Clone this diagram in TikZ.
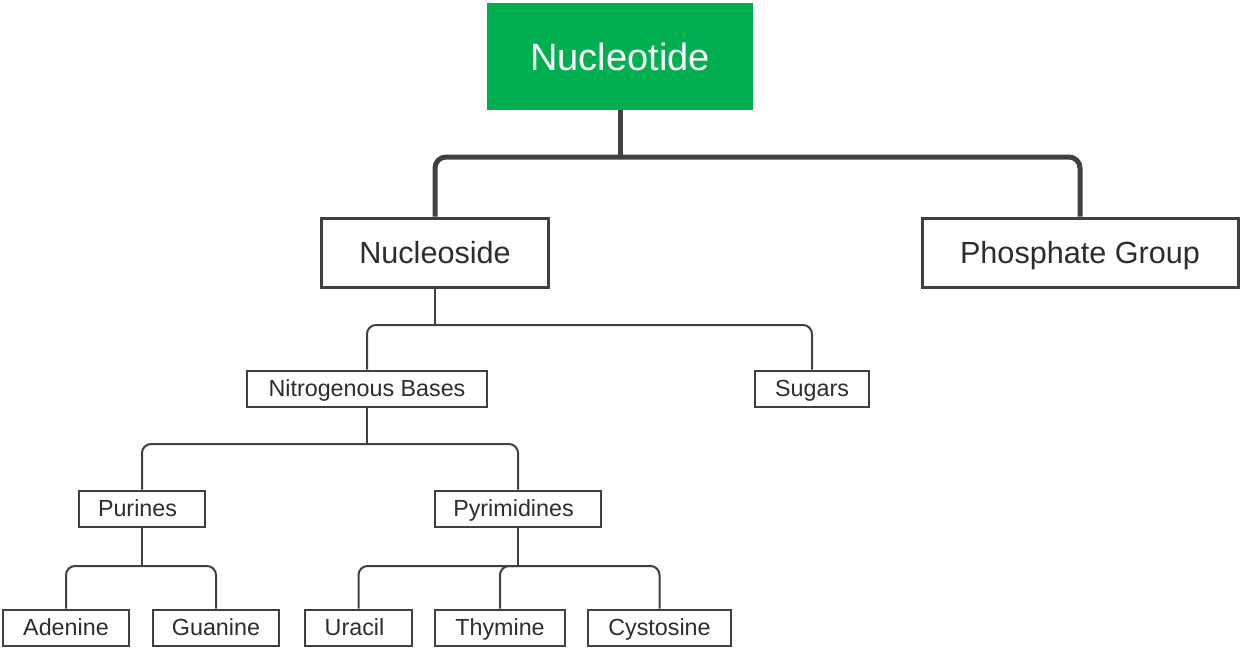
\documentclass[tikz,border=0pt]{standalone}
\usepackage{fontspec}
\setmainfont{Liberation Sans}
\definecolor{nodegreen}{RGB}{0,176,80}
\definecolor{linegray}{RGB}{64,64,64}
\definecolor{txtgray}{RGB}{45,45,45}
\begin{document}
\begin{tikzpicture}[x=1pt,y=-1pt,
  rootbox/.style={fill=nodegreen, text=white, inner sep=0pt, minimum width=266pt, minimum height=107pt, font=\fontsize{38}{44}\selectfont, text height=35.3pt, text depth=8pt},
  midbox/.style={draw=linegray, line width=3pt, fill=white, text=txtgray, inner sep=0pt, minimum height=69pt, font=\fontsize{30.6}{36}\selectfont, text height=28.5pt, text depth=6.4pt},
  smallbox/.style={draw=linegray, line width=2pt, fill=white, text=txtgray, inner sep=0pt, minimum height=36pt, font=\fontsize{23.3}{28}\selectfont, text height=21.7pt, text depth=4.9pt},
  thickconn/.style={draw=linegray, line width=5pt, rounded corners=11pt},
  thinconn/.style={draw=linegray, line width=2pt, rounded corners=9pt}
]
\useasboundingbox (0,0) rectangle (1240,648);
% nodes
\node[rootbox] (nt) at (620,56.5) {Nucleotide};
\node[midbox, minimum width=227pt] (ns) at (435,252.5) {Nucleoside};
\node[midbox, minimum width=316pt] (pg) at (1080,252.5) {Phosphate Group};
\node[smallbox, minimum width=240pt] (nb) at (367,388.5) {Nitrogenous Bases};
\node[smallbox, minimum width=114pt] (sg) at (812,388.5) {Sugars};
\node[smallbox, minimum width=126pt] (pu) at (142,508.5) {\hspace*{-9pt}Purines};
\node[smallbox, minimum width=166pt] (py) at (518,508.5) {\hspace*{-9pt}Pyrimidines};
\node[smallbox, minimum width=126pt] (ad) at (66,627.5) {Adenine};
\node[smallbox, minimum width=126pt] (gu) at (216,627.5) {Guanine};
\node[smallbox, minimum width=107pt] (ur) at (358.5,627.5) {\hspace*{-8pt}Uracil};
\node[smallbox, minimum width=130pt] (th) at (500,627.5) {Thymine};
\node[smallbox, minimum width=143pt] (cy) at (659.5,627.5) {Cystosine};
% bus coordinates
\coordinate (b1) at (620,157);
\coordinate (b2) at (435,325);
\coordinate (b3) at (367,444);
\coordinate (b4) at (142,566);
\coordinate (b5) at (518,566);
% connectors
\draw[thickconn] (nt.south) -- (b1);
\draw[thickconn] (ns.north) |- (b1) -| (pg.north);
\draw[thinconn] (ns.south) -- (b2);
\draw[thinconn] (nb.north) |- (b2) -| (sg.north);
\draw[thinconn] (nb.south) -- (b3);
\draw[thinconn] (pu.north) |- (b3) -| (py.north);
\draw[thinconn] (pu.south) -- (b4);
\draw[thinconn] (ad.north) |- (b4) -| (gu.north);
\draw[thinconn] (py.south) -- (b5);
\draw[thinconn] (ur.north) |- (b5) -| (cy.north);
\draw[thinconn] (b5) -| (th.north);
\end{tikzpicture}
\end{document}
